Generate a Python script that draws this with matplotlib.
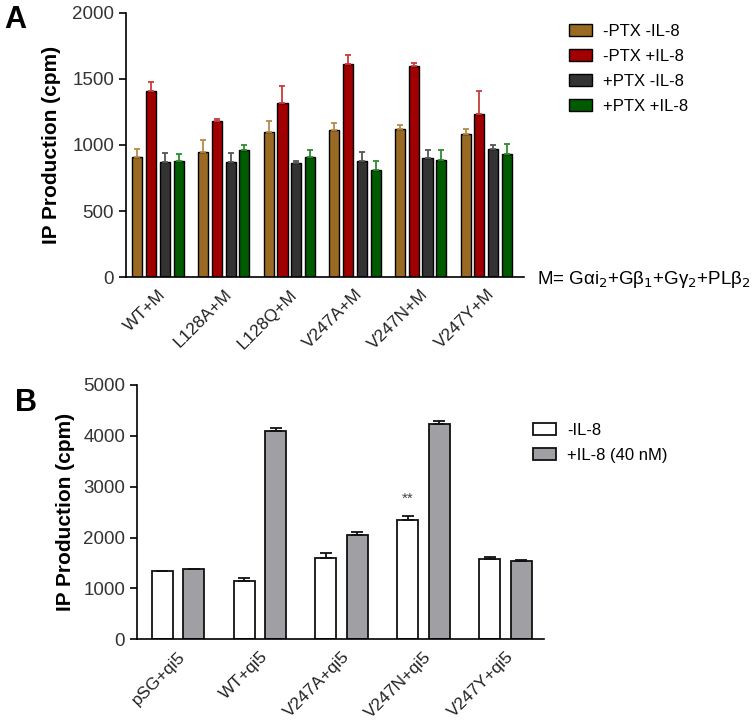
import numpy as np
import matplotlib.pyplot as plt

plt.rcParams['font.family'] = ['Liberation Sans', 'DejaVu Sans']

# Panel A data
groups_a = ["WT+M", "L128A+M", "L128Q+M", "V247A+M", "V247N+M", "V247Y+M"]
series_a = ["-PTX -IL-8", "-PTX +IL-8", "+PTX -IL-8", "+PTX +IL-8"]
vals_a = [
    [910, 950, 1100, 1110, 1120, 1080],
    [1410, 1180, 1320, 1610, 1595, 1235],
    [870, 870, 860, 880, 900, 970],
    [880, 960, 910, 810, 890, 930],
]
errs_a = [
    [60, 90, 85, 55, 35, 40],
    [70, 20, 130, 70, 25, 175],
    [70, 70, 15, 70, 65, 30],
    [50, 40, 50, 70, 70, 80],
]
colors_a = ["#9a6a24", "#a00000", "#333333", "#005a00"]
ecolors_a = ["#b58a4a", "#c83c3c", "#555555", "#2e8a2e"]

# Panel B data
groups_b = ["pSG+qi5", "WT+qi5", "V247A+qi5", "V247N+qi5", "V247Y+qi5"]
series_b = ["-IL-8", "+IL-8 (40 nM)"]
vals_b = [
    [1350, 1150, 1600, 2345, 1575],
    [1375, 4100, 2050, 4225, 1545],
]
errs_b = [
    [0, 50, 95, 75, 45],
    [0, 45, 65, 65, 18],
]
colors_b = ["white", "#a0a0a4"]

fig = plt.figure(figsize=(7.53, 7.21), dpi=100)

# ---------------- Panel A ----------------
ax1 = fig.add_axes([0.1673, 0.6158, 0.529, 0.3662])
x = np.arange(len(groups_a))
w = 0.153
step = 0.21
for i in range(len(series_a)):
    off = (i - 1.5) * step
    ax1.bar(x + off, vals_a[i], w, color=colors_a[i], edgecolor="black", linewidth=1.0,
            label=series_a[i],
            yerr=[np.zeros(len(errs_a[i])), errs_a[i]],
            error_kw=dict(ecolor=ecolors_a[i], elinewidth=1.3, capsize=2.5, capthick=1.3))
ax1.set_xlim(-0.49, 5.58)
ax1.set_ylim(0, 2000)
ax1.set_yticks([0, 500, 1000, 1500, 2000])
ax1.set_xticks(x)
ax1.set_xticklabels(groups_a, rotation=45, ha="right", rotation_mode="anchor")
ax1.set_ylabel("IP Production (cpm)", fontsize=15, fontweight="bold", labelpad=8)
ax1.legend(loc="upper left", bbox_to_anchor=(569 / 753, 1 - 24 / 721),
           bbox_transform=fig.transFigure, frameon=False, fontsize=12,
           handlelength=1.35, handleheight=0.7, handletextpad=0.7,
           labelspacing=0.6, borderpad=0, borderaxespad=0)
fig.text(537 / 753, 1 - 279 / 721,
         "M= Gαi$_2$+Gβ$_1$+Gγ$_2$+PLβ$_2$",
         fontsize=13.5, va="center", ha="left")
fig.text(4 / 753, 1 - 20 / 721, "A", fontsize=22, fontweight="bold", va="center")

# ---------------- Panel B ----------------
ax2 = fig.add_axes([0.1819, 0.1133, 0.5405, 0.3528])
xb = np.arange(len(groups_b))
wb = 0.256
for i in range(len(series_b)):
    off = (i - 0.5) * 0.384
    ax2.bar(xb + off, vals_b[i], wb, color=colors_b[i], edgecolor="#111111", linewidth=1.3,
            label=series_b[i],
            yerr=[np.zeros(len(errs_b[i])), errs_b[i]],
            error_kw=dict(ecolor="#111111", elinewidth=1.3, capsize=4, capthick=1.3))
ax2.text(xb[3] - 0.192, 2620, "**", ha="center", va="bottom", fontsize=11, color="#444444")
ax2.set_xlim(-0.5, 4.47)
ax2.set_ylim(0, 5000)
ax2.set_yticks([0, 1000, 2000, 3000, 4000, 5000])
ax2.set_xticks(xb)
ax2.set_xticklabels(groups_b, rotation=45, ha="right", rotation_mode="anchor")
ax2.set_ylabel("IP Production (cpm)", fontsize=15, fontweight="bold", labelpad=6)
ax2.legend(loc="upper left", bbox_to_anchor=(533 / 753, 1 - 423 / 721),
           bbox_transform=fig.transFigure, frameon=False, fontsize=12,
           handlelength=1.35, handleheight=0.7, handletextpad=0.7,
           labelspacing=0.6, borderpad=0, borderaxespad=0)
fig.text(15 / 753, 1 - 403 / 721, "B", fontsize=22, fontweight="bold", va="center")

for ax in (ax1, ax2):
    ax.spines["top"].set_visible(False)
    ax.spines["right"].set_visible(False)
    ax.spines["left"].set_linewidth(1.2)
    ax.spines["bottom"].set_linewidth(1.2)
    ax.tick_params(axis="y", labelsize=13.5, length=5, width=1.2, labelcolor="#333333")
    ax.tick_params(axis="x", labelsize=12.5, length=0, pad=7, labelcolor="#222222")

fig.savefig("out.png", dpi=100)
